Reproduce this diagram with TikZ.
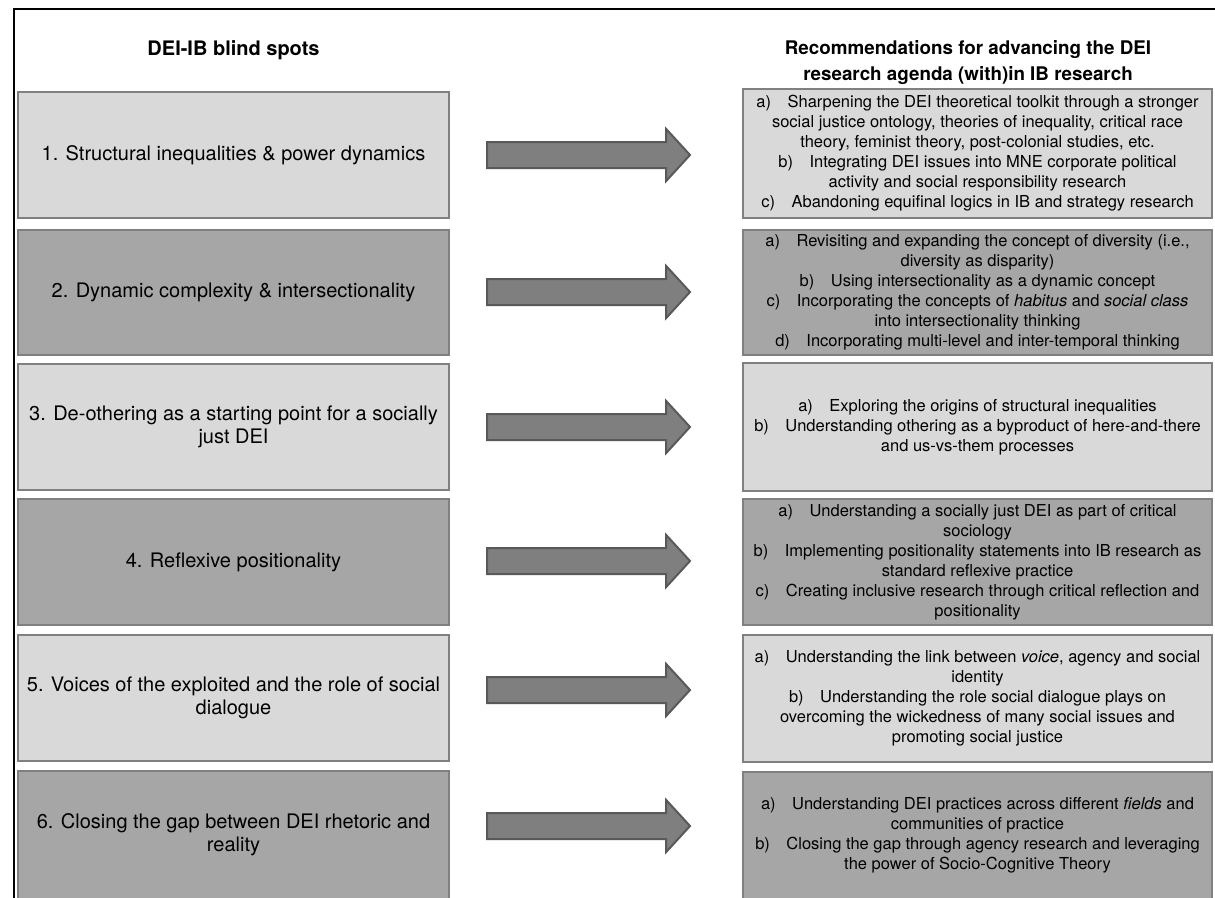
\documentclass[tikz,border=0pt]{standalone}
\usepackage{fontspec}
\setmainfont{TeX Gyre Heros}
\usetikzlibrary{shapes.arrows}
\definecolor{boxlight}{HTML}{D9D9D9}
\definecolor{boxdark}{HTML}{A6A6A6}
\definecolor{boxedge}{HTML}{808080}
\definecolor{arrowfill}{HTML}{7F7F7F}
\definecolor{arrowedge}{HTML}{595959}
\begin{document}
\begin{tikzpicture}[x=1pt,y=-1pt,
  lbox/.style={draw=boxedge, line width=2pt, minimum width=431pt, inner sep=0pt,
    align=center, font=\fontsize{20}{23}\selectfont},
  rbox/.style={draw=boxedge, line width=2pt, minimum width=469pt, inner sep=0pt,
    align=center, font=\fontsize{16.5}{20}\selectfont},
  light/.style={fill=boxlight},
  dark/.style={fill=boxdark},
  hdr/.style={align=center, font=\fontsize{19}{26}\selectfont\bfseries},
  bigarrow/.style={single arrow, draw=arrowedge, fill=arrowfill, line width=2pt,
    minimum height=203pt, inner xsep=0pt, inner ysep=12pt, anchor=tail,
    single arrow head extend=13pt, single arrow tip angle=95}
]
\useasboundingbox (0,0) rectangle (1215,897);
\fill[white] (0,0) rectangle (1215,897);
% frame
\draw[line width=2.5pt] (14,900) -- (14,9) -- (1216,9);
% headers
\node[hdr, font=\fontsize{20}{26}\selectfont\bfseries] (h1) at (233.5,50) {DEI-IB blind spots};
\node[hdr, font=\fontsize{18.8}{26}\selectfont\bfseries] (h2) at (968,63) {Recommendations for advancing the DEI\\research agenda (with)in IB research};
% left boxes
\node[lbox, light, minimum height=126pt] (l1) at (233.5,155) {1. Structural inequalities \& power dynamics};
\node[lbox, dark, minimum height=125pt] (l2) at (233.5,292.5) {2. Dynamic complexity \& intersectionality};
\node[lbox, light, minimum height=126pt] (l3) at (233.5,427) {3. De-othering as a starting point for a socially\\just DEI};
\node[lbox, dark, minimum height=126pt] (l4) at (233.5,562) {4. Reflexive positionality};
\node[lbox, light, minimum height=126pt] (l5) at (233.5,698) {5. Voices of the exploited and the role of social\\dialogue};
\node[lbox, dark, minimum height=128pt] (l6) at (233.5,835) {6. Closing the gap between DEI rhetoric and\\reality};
% right boxes
\node[rbox, light, minimum height=129pt] (r1) at (977.5,153.5) {a)\hspace{1em}Sharpening the DEI theoretical toolkit through a stronger\\social justice ontology, theories of inequality, critical race\\theory, feminist theory, post-colonial studies, etc.\\b)\hspace{1em}Integrating DEI issues into MNE corporate political\\activity and social responsibility research\\c)\hspace{1em}Abandoning equifinal logics in IB and strategy research};
\node[rbox, dark, minimum height=125pt] (r2) at (977.5,292.5) {a)\hspace{1em}Revisiting and expanding the concept of diversity (i.e.,\\diversity as disparity)\\b)\hspace{1em}Using intersectionality as a dynamic concept\\c)\hspace{1em}Incorporating the concepts of \textit{habitus} and \textit{social class}\\into intersectionality thinking\\d)\hspace{1em}Incorporating multi-level and inter-temporal thinking};
\node[rbox, light, minimum height=128pt] (r3) at (977.5,427) {a)\hspace{1em}Exploring the origins of structural inequalities\\b)\hspace{1em}Understanding othering as a byproduct of here-and-there\\and us-vs-them processes};
\node[rbox, dark, minimum height=126pt] (r4) at (977.5,562) {a)\hspace{1em}Understanding a socially just DEI as part of critical\\sociology\\b)\hspace{1em}Implementing positionality statements into IB research as\\standard reflexive practice\\c)\hspace{1em}Creating inclusive research through critical reflection and\\positionality};
\node[rbox, light, minimum height=127pt] (r5) at (977.5,698.5) {a)\hspace{1em}Understanding the link between \textit{voice}, agency and social\\identity\\b)\hspace{1em}Understanding the role social dialogue plays on\\overcoming the wickedness of many social issues and\\promoting social justice};
\node[rbox, dark, minimum height=128pt] (r6) at (977.5,835.5) {a)\hspace{1em}Understanding DEI practices across different \textit{fields} and\\communities of practice\\b)\hspace{1em}Closing the gap through agency research and leveraging\\the power of Socio-Cognitive Theory};
% arrows (tail at left, tip pointing to the recommendations)
\node[bigarrow] (a1) at (486,155) {};
\node[bigarrow] (a2) at (486,292) {};
\node[bigarrow] (a3) at (486,427) {};
\node[bigarrow] (a4) at (486,561) {};
\node[bigarrow] (a5) at (486,690) {};
\node[bigarrow] (a6) at (486,826) {};
\end{tikzpicture}
\end{document}
